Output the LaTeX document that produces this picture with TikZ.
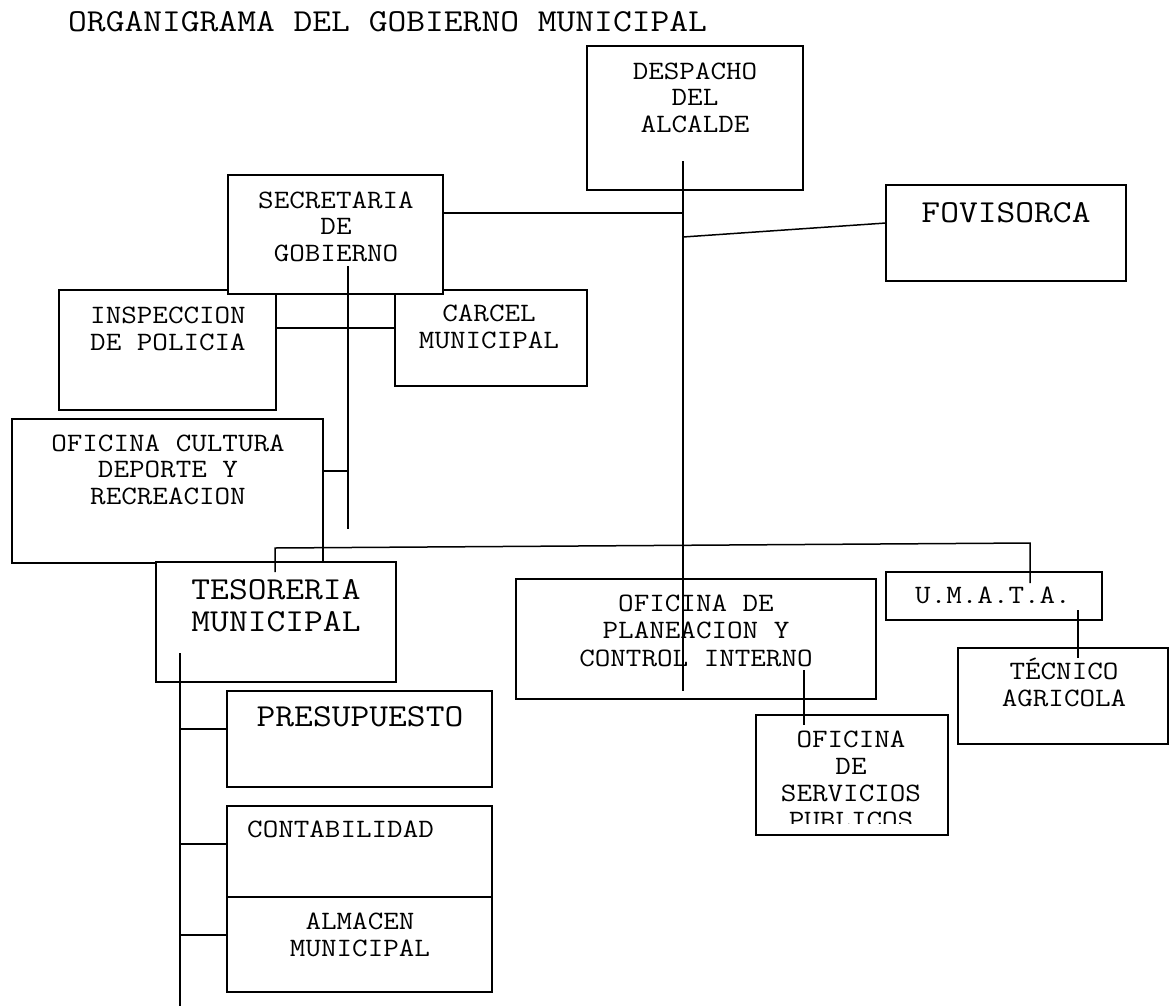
\documentclass[tikz,border=0pt]{standalone}
\usepackage{fontspec}
\newfontfamily\cour{Latin Modern Mono}[FakeStretch=1.14]
\begin{document}
\begin{tikzpicture}[x=1pt,y=-1pt,
  box/.style={draw,fill=white,line width=1.8pt,inner sep=0pt,outer sep=0pt},
  txt/.style={font={\cour\fontsize{26.5}{26.5}\selectfont},align=center,inner sep=0pt,anchor=base},
  bigtxt/.style={font={\cour\fontsize{32}{32}\selectfont},align=center,inner sep=0pt,anchor=base},
  link/.style={line width=1.5pt}]
\fill[white] (0,0) rectangle (1170,1007);
\useasboundingbox (0,0) rectangle (1170,1007);

% title
\node[bigtxt,anchor=base west] (title) at (68,31) {ORGANIGRAMA DEL GOBIERNO MUNICIPAL};

% boxes
\node[box,minimum width=216pt,minimum height=144pt] (despacho) at (695,118) {};
\node[box,minimum width=240pt,minimum height=96pt] (fovisorca) at (1006,233) {};
\node[box,minimum width=217pt,minimum height=120pt] (inspeccion) at (167.5,350) {};
\node[box,minimum width=192pt,minimum height=96pt] (carcel) at (491,338) {};
\node[box,minimum width=215pt,minimum height=119pt] (secretaria) at (335.5,234.5) {};
\node[box,minimum width=311pt,minimum height=144pt] (cultura) at (167.5,491) {};
\node[box,minimum width=240pt,minimum height=120pt] (tesoreria) at (276,622) {};
\node[box,minimum width=360pt,minimum height=120pt] (planeacion) at (696,639) {};
\node[box,minimum width=216pt,minimum height=48pt] (umata) at (994,596) {};
\node[box,minimum width=210pt,minimum height=96pt] (tecnico) at (1063,696) {};
\node[box,minimum width=192pt,minimum height=120pt] (servicios) at (852,775) {};
\node[box,minimum width=265pt,minimum height=96pt] (presupuesto) at (359.5,739) {};
\node[box,minimum width=265pt,minimum height=91pt] (contabilidad) at (359.5,851.5) {};
\node[box,minimum width=265pt,minimum height=95pt] (almacen) at (359.5,944.5) {};

% texts (anchor = baseline of the last line)
\node[txt] (t-despacho) at (695,132) {DESPACHO\\DEL\\ALCALDE};
\node[bigtxt] (t-fovisorca) at (1006,222) {FOVISORCA};
\node[txt] (t-secretaria) at (336,261) {SECRETARIA\\DE\\GOBIERNO};
\node[txt] (t-inspeccion) at (168,350) {INSPECCION\\DE POLICIA};
\node[txt] (t-carcel) at (489,348) {CARCEL\\MUNICIPAL};
\node[txt] (t-cultura) at (168,504) {OFICINA CULTURA\\DEPORTE Y\\RECREACION};
\node[bigtxt] (t-tesoreria) at (276,631) {TESORERIA\\MUNICIPAL};
\node[txt,font={\cour\fontsize{26.5}{27.5}\selectfont}] (t-planeacion) at (696,666) {OFICINA DE\\PLANEACION Y\\CONTROL INTERNO};
\node[txt] (t-umata) at (993,603) {U.M.A.T.A.};
\node[txt] (t-tecnico) at (1064,706) {TÉCNICO\\AGRICOLA};
\begin{scope}
  \clip (756,715) rectangle (948,823);
  \node[txt,font={\cour\fontsize{26.5}{27}\selectfont}] (t-servicios) at (851,828) {OFICINA\\DE\\SERVICIOS\\PUBLICOS};
\end{scope}
\node[bigtxt] (t-presupuesto) at (360,726) {PRESUPUESTO};
\node[txt,anchor=base west] (t-contabilidad) at (247,837) {CONTABILIDAD};
\node[txt] (t-almacen) at (360,956) {ALMACEN\\MUNICIPAL};

% connector points
\coordinate (sp-top) at (683,161);
\coordinate (sp-bot) at (683,691);
\coordinate (sp-sec) at (683,213);
\coordinate (sec-r) at (443,213);
\coordinate (sp-fov) at (683,237);
\coordinate (fov-l) at (886,223);
\coordinate (sec-top) at (348,266);
\coordinate (sec-bot) at (348,529);
\coordinate (insp-r) at (276,328);
\coordinate (carc-l) at (396,328);
\coordinate (cul-r) at (323,471);
\coordinate (sec-cul) at (348,471);
\coordinate (tes-in) at (275,572);
\coordinate (tes-up) at (275,548);
\coordinate (um-up) at (1030,543);
\coordinate (um-in) at (1030,583);
\coordinate (tes-top) at (180,653);
\coordinate (tes-bot) at (180,1006);
\coordinate (b1) at (180,729);
\coordinate (b2) at (180,844);
\coordinate (b3) at (180,935);
\coordinate (pre-l) at (227,729);
\coordinate (con-l) at (227,844);
\coordinate (alm-l) at (227,935);
\coordinate (pl-in) at (804,670);
\coordinate (sv-in) at (804,725);
\coordinate (um-b) at (1078,610);
\coordinate (tec-in) at (1078,658);

% connectors
\draw[link] (sp-top) -- (sp-bot);
\draw[link] (sec-r) -- (sp-sec);
\draw[link] (sp-fov) -- (fov-l);
\draw[link] (sec-top) -- (sec-bot);
\draw[link] (insp-r) -- (carc-l);
\draw[link] (cul-r) -- (sec-cul);
\draw[link] (tes-in) -- (tes-up) -- (um-up) -- (um-in);
\draw[link] (tes-top) -- (tes-bot);
\draw[link] (b1) -- (pre-l);
\draw[link] (b2) -- (con-l);
\draw[link] (b3) -- (alm-l);
\draw[link] (pl-in) -- (sv-in);
\draw[link] (um-b) -- (tec-in);
\end{tikzpicture}
\end{document}
